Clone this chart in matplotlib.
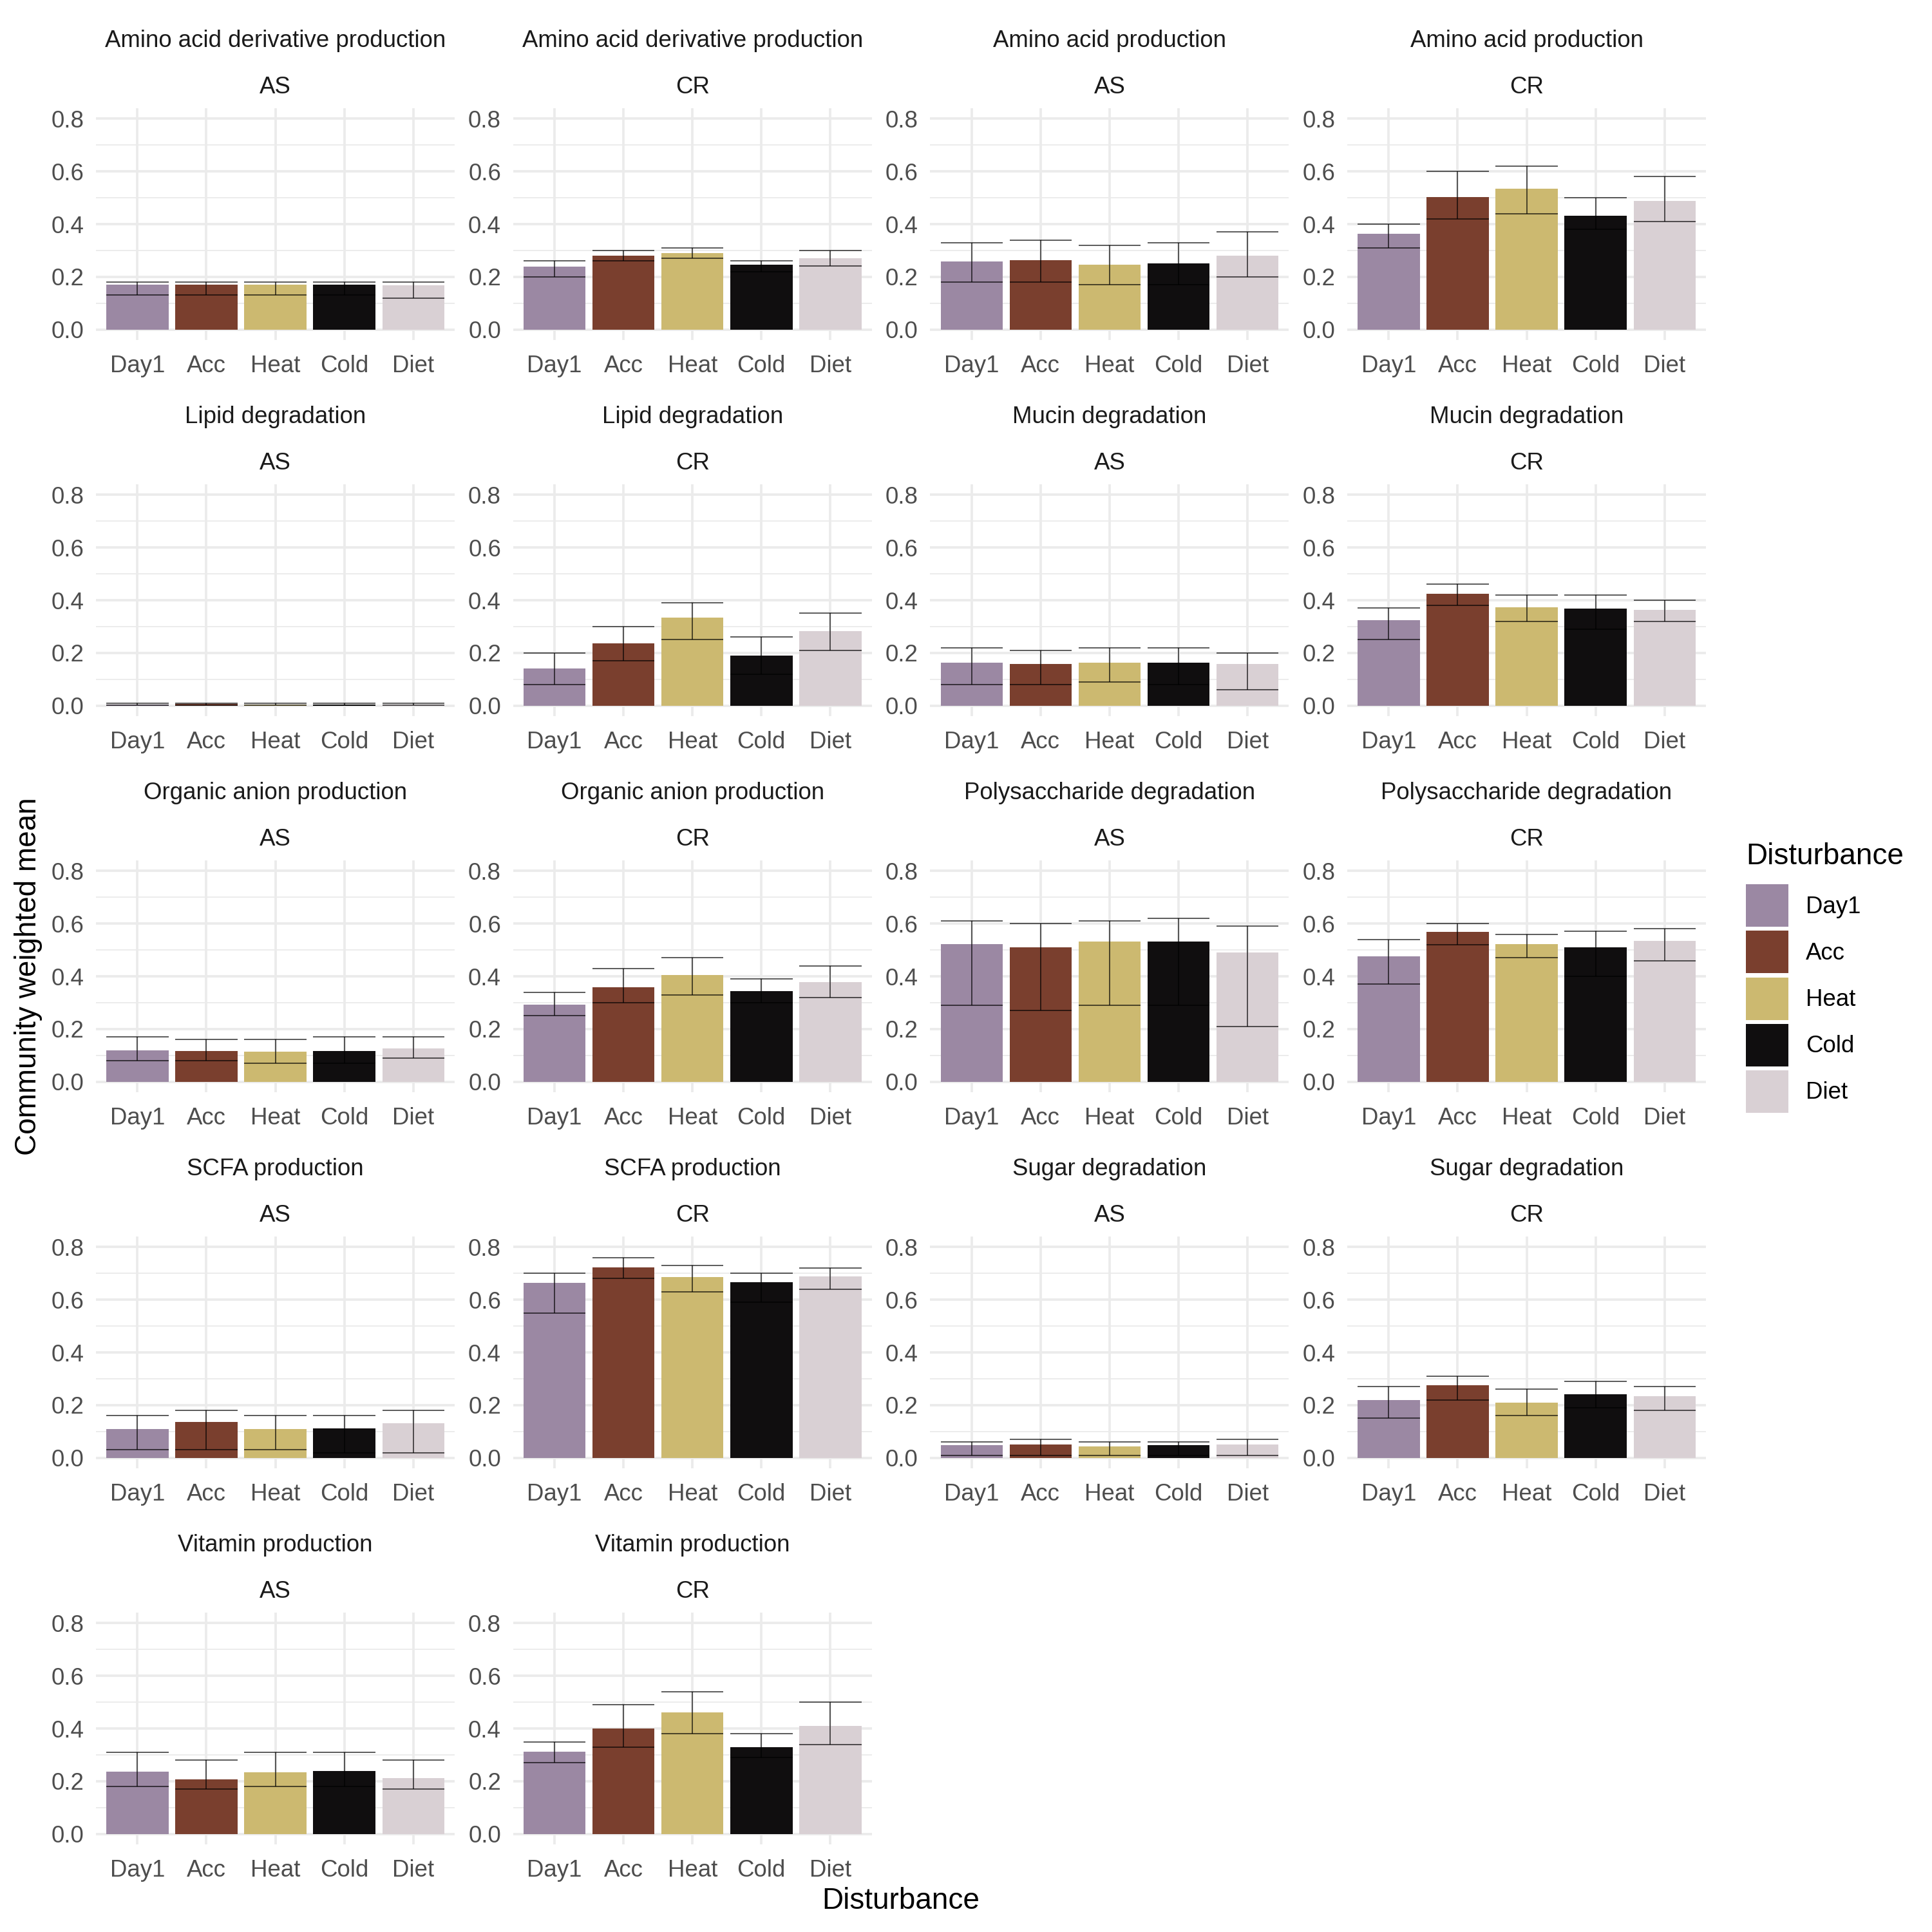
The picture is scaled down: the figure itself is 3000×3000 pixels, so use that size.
import numpy as np
import matplotlib
matplotlib.use("Agg")
import matplotlib.pyplot as plt
from matplotlib.patches import Patch

plt.rcParams['font.family'] = ['Liberation Sans', 'DejaVu Sans']

# Data
functions = ['Amino acid derivative production', 'Amino acid production', 'Lipid degradation',
             'Mucin degradation', 'Organic anion production', 'Polysaccharide degradation',
             'SCFA production', 'Sugar degradation', 'Vitamin production']
sites = ['AS', 'CR']
disturbances = ['Day1', 'Acc', 'Heat', 'Cold', 'Diet']
colors = ['#9B88A3', '#7A3F2E', '#CCB970', '#100E0F', '#D9D0D4']

# rows = functions, cols = disturbances
mean_AS = [
    [0.170, 0.170, 0.170, 0.170, 0.167],
    [0.259, 0.264, 0.245, 0.252, 0.281],
    [0.005, 0.006, 0.005, 0.005, 0.005],
    [0.162, 0.159, 0.162, 0.162, 0.157],
    [0.119, 0.117, 0.114, 0.117, 0.127],
    [0.523, 0.511, 0.533, 0.533, 0.491],
    [0.110, 0.135, 0.110, 0.112, 0.132],
    [0.047, 0.051, 0.044, 0.047, 0.051],
    [0.237, 0.208, 0.235, 0.240, 0.212],
]
lo_AS = [
    [0.13, 0.13, 0.13, 0.13, 0.12],
    [0.18, 0.18, 0.17, 0.17, 0.20],
    [0.001, 0.002, 0.001, 0.001, 0.001],
    [0.08, 0.08, 0.09, 0.08, 0.06],
    [0.08, 0.08, 0.07, 0.07, 0.09],
    [0.29, 0.27, 0.29, 0.29, 0.21],
    [0.03, 0.03, 0.03, 0.02, 0.02],
    [0.01, 0.01, 0.01, 0.01, 0.01],
    [0.18, 0.17, 0.18, 0.18, 0.17],
]
hi_AS = [
    [0.18, 0.18, 0.18, 0.18, 0.18],
    [0.33, 0.34, 0.32, 0.33, 0.37],
    [0.009, 0.010, 0.009, 0.009, 0.009],
    [0.22, 0.21, 0.22, 0.22, 0.20],
    [0.17, 0.16, 0.16, 0.17, 0.17],
    [0.61, 0.60, 0.61, 0.62, 0.59],
    [0.16, 0.18, 0.16, 0.16, 0.18],
    [0.06, 0.07, 0.06, 0.06, 0.07],
    [0.31, 0.28, 0.31, 0.31, 0.28],
]
mean_CR = [
    [0.238, 0.281, 0.291, 0.245, 0.271],
    [0.364, 0.503, 0.534, 0.432, 0.488],
    [0.140, 0.237, 0.335, 0.191, 0.284],
    [0.325, 0.425, 0.372, 0.369, 0.364],
    [0.292, 0.358, 0.406, 0.345, 0.377],
    [0.477, 0.569, 0.523, 0.509, 0.535],
    [0.663, 0.723, 0.687, 0.667, 0.689],
    [0.219, 0.275, 0.210, 0.242, 0.234],
    [0.312, 0.400, 0.461, 0.330, 0.410],
]
lo_CR = [
    [0.20, 0.26, 0.27, 0.22, 0.24],
    [0.31, 0.42, 0.44, 0.38, 0.41],
    [0.08, 0.17, 0.25, 0.12, 0.21],
    [0.25, 0.38, 0.32, 0.29, 0.32],
    [0.25, 0.30, 0.33, 0.30, 0.32],
    [0.37, 0.52, 0.47, 0.40, 0.46],
    [0.55, 0.68, 0.63, 0.59, 0.64],
    [0.15, 0.22, 0.16, 0.19, 0.18],
    [0.27, 0.33, 0.38, 0.29, 0.34],
]
hi_CR = [
    [0.26, 0.30, 0.31, 0.26, 0.30],
    [0.40, 0.60, 0.62, 0.50, 0.58],
    [0.20, 0.30, 0.39, 0.26, 0.35],
    [0.37, 0.46, 0.42, 0.42, 0.40],
    [0.34, 0.43, 0.47, 0.39, 0.44],
    [0.54, 0.60, 0.56, 0.57, 0.58],
    [0.70, 0.76, 0.73, 0.70, 0.72],
    [0.27, 0.31, 0.26, 0.29, 0.27],
    [0.35, 0.49, 0.54, 0.38, 0.50],
]

means = {'AS': mean_AS, 'CR': mean_CR}
lows = {'AS': lo_AS, 'CR': lo_CR}
highs = {'AS': hi_AS, 'CR': hi_CR}

fig = plt.figure(figsize=(10, 10), dpi=300)
gs = fig.add_gridspec(5, 4, left=0.0497, right=0.883, top=0.944, bottom=0.0453,
                      wspace=0.163, hspace=0.622)

x = np.arange(1, len(disturbances) + 1)
half = 0.45

for k in range(len(functions) * len(sites)):
    r, c = divmod(k, 4)
    func = functions[k // 2]
    site = sites[k % 2]
    fi = k // 2
    ax = fig.add_subplot(gs[r, c])

    m = np.array(means[site][fi])
    lo = np.array(lows[site][fi])
    hi = np.array(highs[site][fi])

    ax.bar(x, m, width=0.9, color=colors, zorder=2)
    ax.vlines(x, lo, hi, color='black', lw=0.4, alpha=0.75, zorder=3)
    ax.hlines(lo, x - half, x + half, color='black', lw=0.4, alpha=0.75, zorder=3)
    ax.hlines(hi, x - half, x + half, color='black', lw=0.4, alpha=0.75, zorder=3)

    ax.set_xlim(0.4, 5.6)
    ax.set_ylim(-0.04, 0.84)
    ax.set_xticks(x)
    ax.set_xticklabels(disturbances)
    ax.set_yticks([0, 0.2, 0.4, 0.6, 0.8])
    ax.set_yticklabels(['0.0', '0.2', '0.4', '0.6', '0.8'])
    ax.set_yticks([0.1, 0.3, 0.5, 0.7], minor=True)
    ax.tick_params(which='both', length=0, labelsize=8.8, colors='#4D4D4D')
    ax.tick_params(axis='x', pad=5.5)
    ax.tick_params(axis='y', pad=4.5)
    ax.grid(axis='y', which='major', color='#EBEBEB', lw=0.9)
    ax.grid(axis='y', which='minor', color='#EBEBEB', lw=0.45)
    ax.grid(axis='x', which='major', color='#EBEBEB', lw=0.9)
    ax.set_axisbelow(True)
    for s in ax.spines.values():
        s.set_visible(False)

    # two-line facet strip
    ax.annotate(func, xy=(0.5, 1), xycoords='axes fraction', xytext=(0, 25),
                textcoords='offset points', ha='center', va='center',
                fontsize=8.8, color='#1A1A1A')
    ax.annotate(site, xy=(0.5, 1), xycoords='axes fraction', xytext=(0, 7.7),
                textcoords='offset points', ha='center', va='center',
                fontsize=8.8, color='#1A1A1A')

fig.text(44 / 3000, 1 - 1516 / 3000, 'Community weighted mean', rotation=90,
         ha='center', va='center', fontsize=11)
fig.text(0.4663, 0.016, 'Disturbance', ha='center', va='center', fontsize=11)

handles = [Patch(facecolor=col, edgecolor='none') for col in colors]
leg = fig.legend(handles, disturbances, title='Disturbance', loc='upper left',
                 bbox_to_anchor=(2711 / 3000, 1 - 1308 / 3000), frameon=False,
                 fontsize=8.8, title_fontsize=11, handlelength=1.8, handleheight=2.39,
                 labelspacing=0.17, handletextpad=0.74, borderpad=0, borderaxespad=0,
                 alignment='left')
# more room between legend title and keys
leg._legend_box.sep = 5.1

fig.savefig('out.png', dpi=300, facecolor='white')
